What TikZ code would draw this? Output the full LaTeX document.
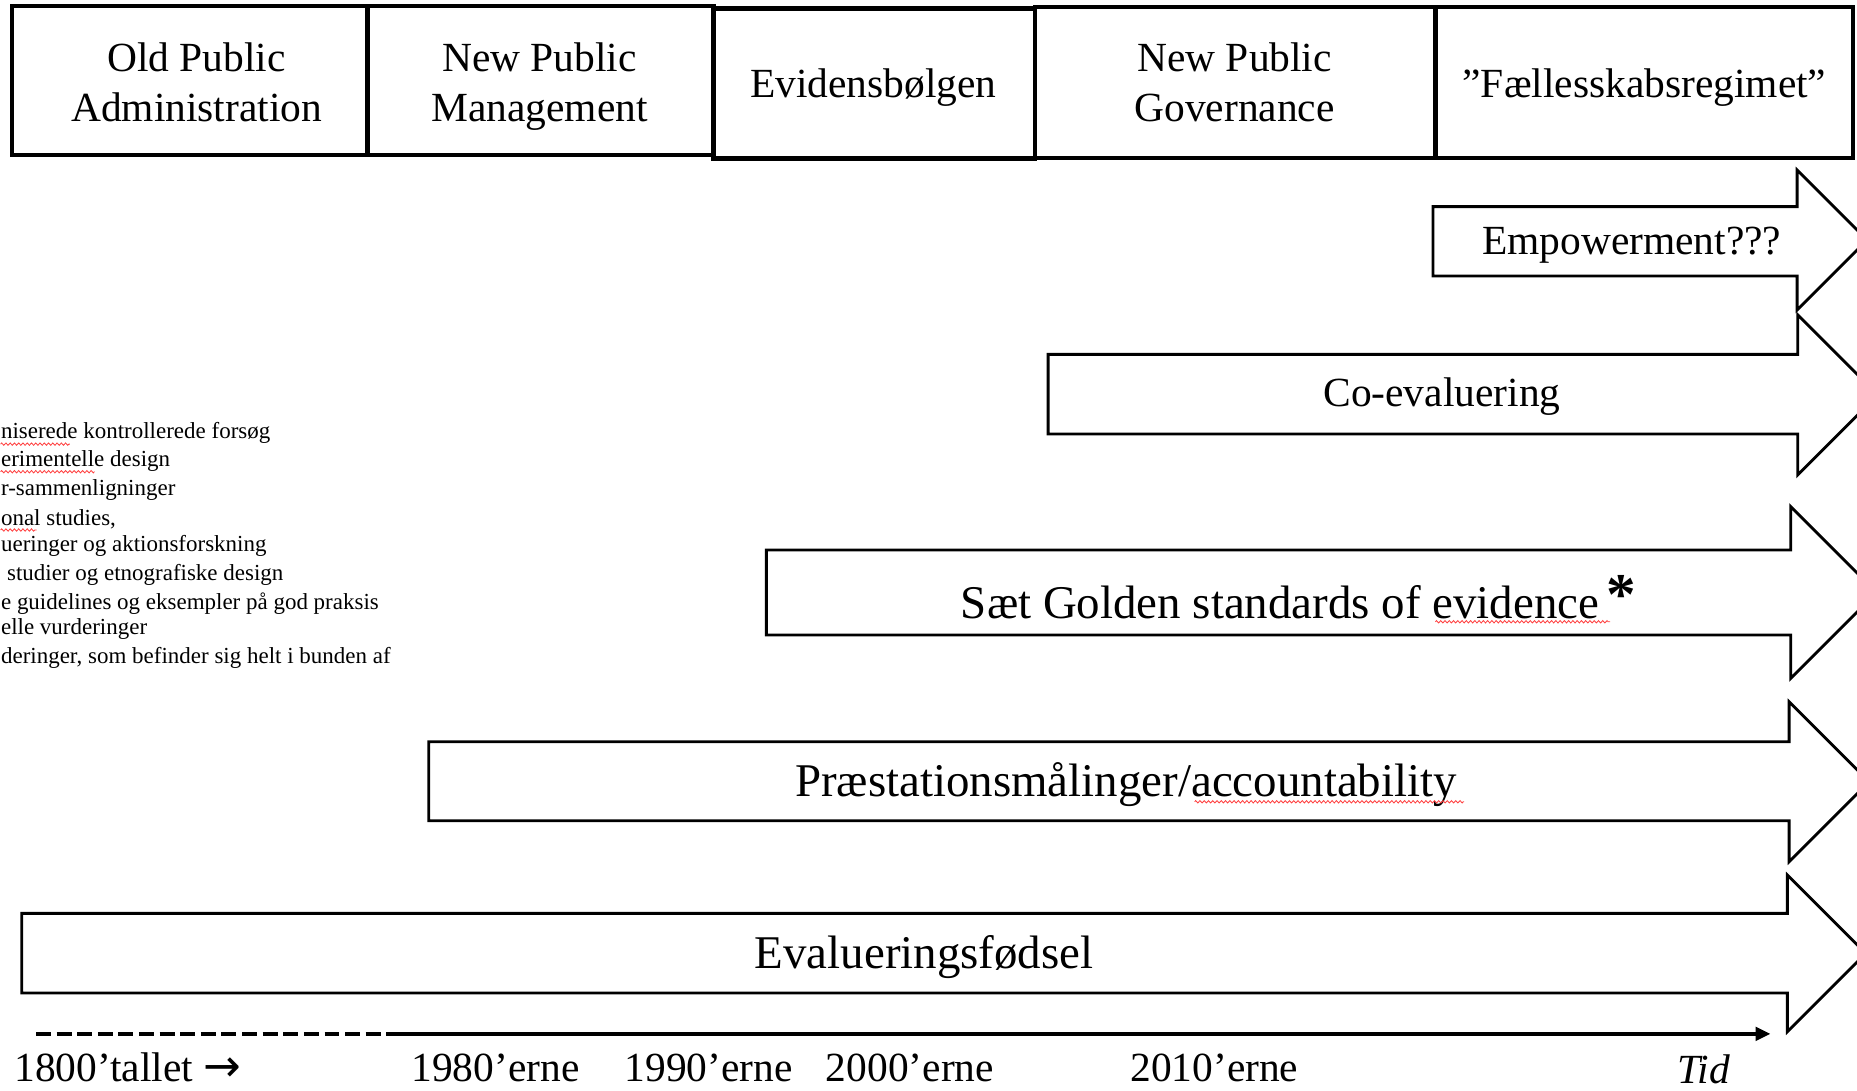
\documentclass[tikz,border=0pt]{standalone}
\usepackage{fontspec}
\setmainfont{Liberation Serif}
\newfontfamily\arrowfont{DejaVu Sans}
\usetikzlibrary{decorations.pathmorphing,arrows.meta}

% #1 left x, #2 body top, #3 body bottom, #4 head x, #5 head top, #6 head bottom
\newcommand\BArrow[6]{%
  \pgfmathsetmacro\BAtipx{#4+(#6-#5)/2}%
  \pgfmathsetmacro\BAtipy{(#5+#6)/2}%
  \draw[blockarrow] (#1,#2) -- (#4,#2) -- (#4,#5) -- (\BAtipx,\BAtipy) -- (#4,#6) -- (#4,#3) -- (#1,#3) -- cycle;}

\tikzset{
  topbox/.style={draw=black, line width=1.9pt, inner sep=0pt},
  blockarrow/.style={draw=black, line width=1.2pt, fill=white, line join=miter},
  lbl/.style={inner sep=0pt, font=\fontsize{17.5}{21}\selectfont},
  biglbl/.style={inner sep=0pt, font=\fontsize{19.8}{24}\selectfont},
  fragtext/.style={inner sep=0pt, font=\fontsize{9.7}{12}\selectfont},
  asterisk/.style={inner sep=0pt, font=\fontsize{25}{25}\selectfont\bfseries},
  squiggle/.style={draw=red!75, line width=0.35pt, decorate, decoration={zigzag, segment length=1.8pt, amplitude=0.5pt}},
  timeline/.style={draw=black, line width=1.7pt},
}

\begin{document}
\begin{tikzpicture}[x=0.5pt,y=-0.5pt]
\useasboundingbox (0,0) rectangle (1568,921);

% ---- header boxes ----
\node[topbox, minimum width=150.25pt, minimum height=63pt] (opa) at (160.25,68) {};
\node[topbox, minimum width=146pt, minimum height=63pt] (npm) at (456.5,68) {};
\node[topbox, minimum width=135.75pt, minimum height=63.5pt] (evb) at (738.25,70.5) {};
\node[topbox, minimum width=169pt, minimum height=63.75pt] (npg) at (1043,69.75) {};
\node[topbox, minimum width=176.25pt, minimum height=63.75pt] (fael) at (1388.25,69.75) {};

\node[lbl, align=center, anchor=north] (opa-t) at (166,36.1) {Old Public\\Administration};
\node[lbl, align=center, anchor=north] (npm-t) at (455.5,36.1) {New Public\\Management};
\node[lbl, anchor=base] (evb-t) at (737.5,82.2) {Evidensbølgen};
\node[lbl, align=center, anchor=north] (npg-t) at (1042.5,36.1) {New Public\\Governance};
\node[lbl, anchor=base] (fael-t) at (1388.5,82) {”Fællesskabsregimet”};

% ---- block arrows ----
\BArrow{1210}{174.5}{233}{1517.4}{143.5}{261.8}
\BArrow{885}{299.2}{366.5}{1518}{266}{401}
\BArrow{647.1}{464.4}{536.2}{1512}{427.8}{572.8}
\BArrow{362}{626.3}{693}{1510.7}{592.5}{727.5}
\BArrow{18.3}{771.2}{838.5}{1509.2}{738.8}{871.1}

\node[lbl, anchor=base west] (emp) at (1251,215) {Empowerment???};
\node[lbl, anchor=base west] (coe) at (1117,343.4) {Co-evaluering};
\node[biglbl, anchor=base west] (gold) at (811,522) {Sæt Golden standards of evidence};
\node[asterisk, anchor=base] (ast) at (1369,519) {*};
\node[biglbl, anchor=base west] (prae) at (671,672.7) {Præstationsmålinger/accountability};
\node[biglbl, anchor=base west] (fod) at (637,818) {Evalueringsfødsel};

% ---- list fragments at the left ----
\node[fragtext, anchor=base west] (l1) at (0.5,370) {niserede kontrollerede forsøg};
\node[fragtext, anchor=base west] (l2) at (0.5,394) {erimentelle design};
\node[fragtext, anchor=base west] (l3) at (0.5,418) {r-sammenligninger};
\node[fragtext, anchor=base west] (l4) at (0.5,444) {onal studies,};
\node[fragtext, anchor=base west] (l5) at (0.5,466) {ueringer og aktionsforskning};
\node[fragtext, anchor=base west] (l6) at (5.6,490) {studier og etnografiske design};
\node[fragtext, anchor=base west] (l7) at (0.5,515) {e guidelines og eksempler på god praksis};
\node[fragtext, anchor=base west] (l8) at (0.5,536) {elle vurderinger};
\node[fragtext, anchor=base west] (l9) at (0.5,560) {deringer, som befinder sig helt i bunden af};

% ---- spell-check squiggles ----
\draw[squiggle] (0.5,375) -- (59,375);
\draw[squiggle] (0.5,398.3) -- (80,398.3);
\draw[squiggle] (0.5,447.5) -- (31,447.5);
\draw[squiggle] (1212,525) -- (1359.5,525);
\draw[squiggle] (1008.7,677) -- (1236.2,677);

% ---- time axis ----
\coordinate (t0) at (30.4,873);
\coordinate (t1) at (329,873);
\coordinate (t2) at (1495,873);
\draw[timeline, dash pattern=on 6.3pt off 2.4pt] (t0) -- (t1);
\draw[timeline, -{Triangle[length=6.3pt,width=5.6pt]}] (t1) -- (t2);

\node[lbl, anchor=base west] (y1800) at (11.8,913) {1800’tallet {\arrowfont\fontsize{19}{19}\selectfont →}};
\node[lbl, anchor=base west] (y1980) at (347,913) {1980’erne};
\node[lbl, anchor=base west] (y1990) at (527,913) {1990’erne};
\node[lbl, anchor=base west] (y2000) at (697,913) {2000’erne};
\node[lbl, anchor=base west] (y2010) at (954,913) {2010’erne};
\node[lbl, anchor=base west, font=\fontsize{17.5}{21}\selectfont\itshape] (tid) at (1415.7,915) {Tid};
\end{tikzpicture}
\end{document}
